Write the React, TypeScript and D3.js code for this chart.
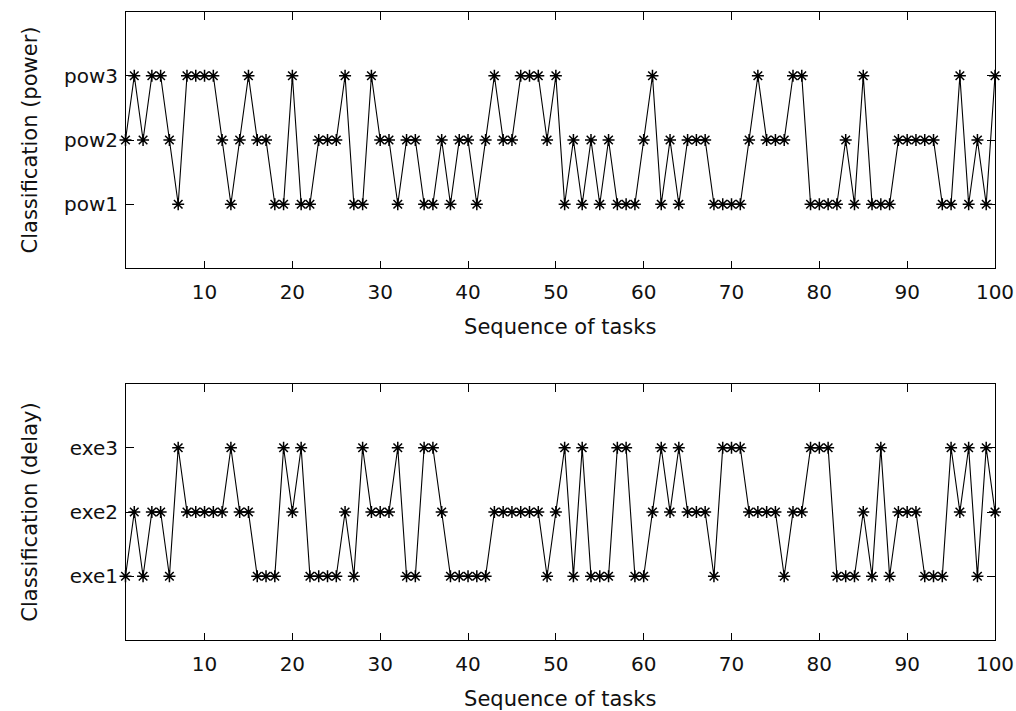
import React from "react";
import * as d3 from "d3";

// classification of each task, 1..3
const powerClass = [
  2, 3, 2, 3, 3, 2, 1, 3, 3, 3, 3, 2, 1, 2, 3, 2, 2, 1, 1, 3, 1,
  1, 2, 2, 2, 3, 1, 1, 3, 2, 2, 1, 2, 2, 1, 1, 2, 1, 2, 2, 1,
  2, 3, 2, 2, 3, 3, 3, 2, 3, 1, 2, 1, 2, 1, 2, 1, 1, 1, 2, 3,
  1, 2, 1, 2, 2, 2, 1, 1, 1, 1, 2, 3, 2, 2, 2, 3, 3, 1, 1, 1,
  1, 2, 1, 3, 1, 1, 1, 2, 2, 2, 2, 2, 1, 1, 3, 1, 2, 1, 3,
];
const delayClass = [
  1, 2, 1, 2, 2, 1, 3, 2, 2, 2, 2, 2, 3, 2, 2, 1, 1, 1, 3, 2, 3,
  1, 1, 1, 1, 2, 1, 3, 2, 2, 2, 3, 1, 1, 3, 3, 2, 1, 1, 1, 1,
  1, 2, 2, 2, 2, 2, 2, 1, 2, 3, 1, 3, 1, 1, 1, 3, 3, 1, 1, 2,
  3, 2, 3, 2, 2, 2, 1, 3, 3, 3, 2, 2, 2, 2, 1, 2, 2, 3, 3, 3,
  1, 1, 1, 2, 1, 3, 1, 2, 2, 2, 1, 1, 1, 3, 2, 3, 1, 3, 2,
];
const powerLabels = ["pow1", "pow2", "pow3"];
const delayLabels = ["exe1", "exe2", "exe3"];
const xTicks = [10, 20, 30, 40, 50, 60, 70, 80, 90, 100];
const xLabel = "Sequence of tasks";

const W = 1016;
const H = 711;
const plotLeft = 125.5;
const plotRight = 995;
const tickLen = 8;
const font = "'DejaVu Sans', sans-serif";
// matlab '*' marker: plus + cross
const star = "M-6,0H6M0,-6V6M-4.3,-4.3L4.3,4.3M-4.3,4.3L4.3,-4.3";

function Panel({ top, bottom, values, labels, ylabel }) {
  const x = d3.scaleLinear().domain([1, values.length]).range([plotLeft, plotRight]);
  const y = d3.scaleLinear().domain([0, 4]).range([bottom, top]);
  const line = d3
    .line<number>()
    .x((_, i) => x(i + 1))
    .y((d) => y(d));

  return (
    <g>
      <path d={line(values) ?? ""} fill="none" stroke="#000" strokeWidth={1.1} />
      {values.map((v, i) => (
        <path
          key={i}
          d={star}
          transform={`translate(${x(i + 1)},${y(v)})`}
          stroke="#000"
          strokeWidth={1.5}
          fill="none"
        />
      ))}
      <rect
        x={plotLeft}
        y={top}
        width={plotRight - plotLeft}
        height={bottom - top}
        fill="none"
        stroke="#000"
        strokeWidth={1}
        shapeRendering="crispEdges"
      />
      {xTicks.map((t) => (
        <g key={t} shapeRendering="crispEdges">
          <line x1={x(t)} x2={x(t)} y1={bottom} y2={bottom - tickLen} stroke="#000" />
          <line x1={x(t)} x2={x(t)} y1={top} y2={top + tickLen} stroke="#000" />
          <text
            x={x(t)}
            y={bottom + 30}
            textAnchor="middle"
            fontFamily={font}
            fontSize={20}
            fill="#111"
          >
            {t}
          </text>
        </g>
      ))}
      {labels.map((lab, i) => (
        <g key={lab} shapeRendering="crispEdges">
          <line x1={plotLeft} x2={plotLeft + tickLen} y1={y(i + 1)} y2={y(i + 1)} stroke="#000" />
          <line x1={plotRight} x2={plotRight - tickLen} y1={y(i + 1)} y2={y(i + 1)} stroke="#000" />
          <text
            x={118}
            y={y(i + 1)}
            dy="0.35em"
            textAnchor="end"
            fontFamily={font}
            fontSize={20}
            fill="#111"
          >
            {lab}
          </text>
        </g>
      ))}
      <text
        x={(plotLeft + plotRight) / 2}
        y={bottom + 65}
        textAnchor="middle"
        fontFamily={font}
        fontSize={21}
        fill="#111"
      >
        {xLabel}
      </text>
      <text
        transform={`translate(37,${(top + bottom) / 2}) rotate(-90)`}
        textAnchor="middle"
        fontFamily={font}
        fontSize={21}
        fill="#111"
      >
        {ylabel}
      </text>
    </g>
  );
}

export default function App() {
  return (
    <svg
      width={W}
      height={H}
      style={{ position: "absolute", left: 0, top: 0, background: "#fff" }}
    >
      <rect width={W} height={H} fill="#fff" />
      <Panel top={11.5} bottom={268.5} values={powerClass} labels={powerLabels} ylabel="Classification (power)" />
      <Panel top={383.5} bottom={640.5} values={delayClass} labels={delayLabels} ylabel="Classification (delay)" />
    </svg>
  );
}
